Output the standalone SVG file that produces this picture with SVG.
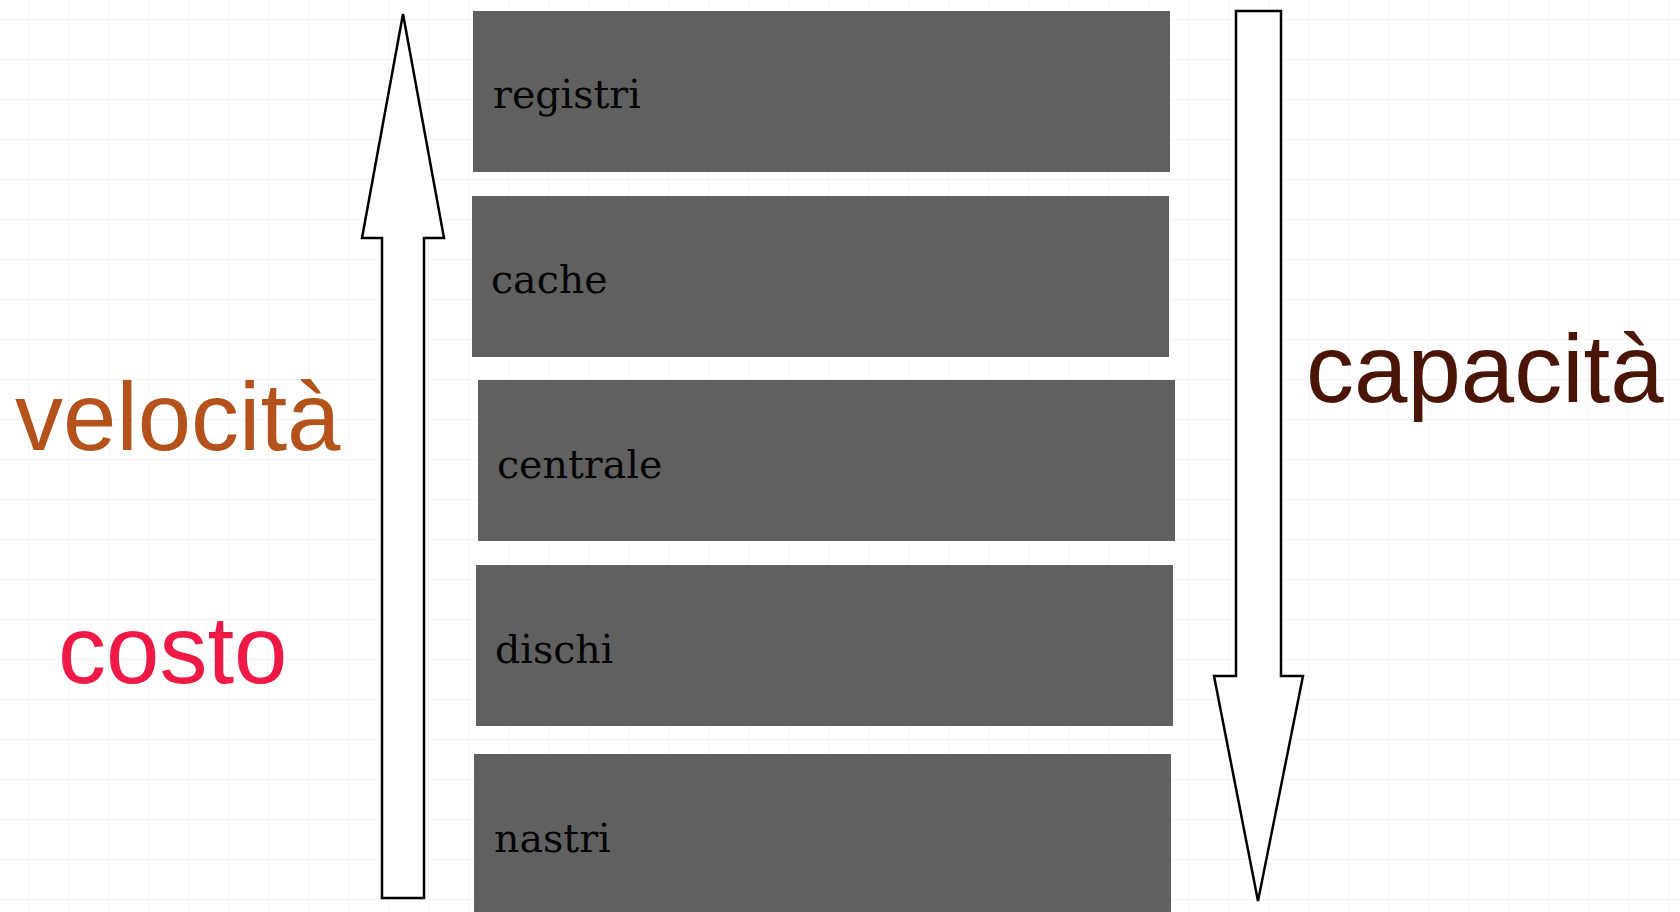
<svg xmlns="http://www.w3.org/2000/svg" width="1680" height="912" viewBox="0 0 1680 912">
  <defs>
    <pattern id="grid" patternUnits="userSpaceOnUse" x="28" y="19" width="40" height="40">
      <path d="M0 0H40M0 0V40" fill="none" stroke="#f4f4f4" stroke-width="2"/>
    </pattern>
  </defs>
  <style>
    .box { fill: #606060; }
    .lbl { font-family: "DejaVu Serif", "Liberation Serif", serif; font-size: 39.5px; fill: #050505; }
    .big { font-family: "Liberation Sans", Arial, sans-serif; font-size: 96px; }
    .arrow { fill: #ffffff; stroke: #000000; stroke-width: 2.5; stroke-linejoin: miter; }
  </style>
  <rect x="0" y="0" width="1680" height="912" fill="#ffffff"/>
  <rect x="0" y="0" width="1680" height="912" fill="url(#grid)"/>

  <g id="arrows">
    <polygon class="arrow" points="403,14 444,238 424,238 424,898 382,898 382,238 362,238"/>
    <polygon class="arrow" points="1236,11 1281,11 1281,676 1303,676 1258,901 1214,676 1236,676"/>
  </g>

  <g id="node-registri">
    <rect class="box" x="473" y="11" width="697" height="161"/>
    <text class="lbl" x="493" y="108">registri</text>
  </g>
  <g id="node-cache">
    <rect class="box" x="472" y="196" width="697" height="161"/>
    <text class="lbl" x="491" y="293">cache</text>
  </g>
  <g id="node-centrale">
    <rect class="box" x="478" y="380" width="697" height="161"/>
    <text class="lbl" x="497" y="478">centrale</text>
  </g>
  <g id="node-dischi">
    <rect class="box" x="476" y="565" width="697" height="161"/>
    <text class="lbl" x="495" y="663">dischi</text>
  </g>
  <g id="node-nastri">
    <rect class="box" x="474" y="754" width="697" height="161"/>
    <text class="lbl" x="494" y="852">nastri</text>
  </g>

  <g id="labels">
    <text class="big" x="15" y="450" fill="#b5521b">velocità</text>
    <text class="big" x="58" y="683" fill="#ee1a45">costo</text>
    <text class="big" x="1306" y="402" fill="#4b1506">capacità</text>
  </g>
</svg>
